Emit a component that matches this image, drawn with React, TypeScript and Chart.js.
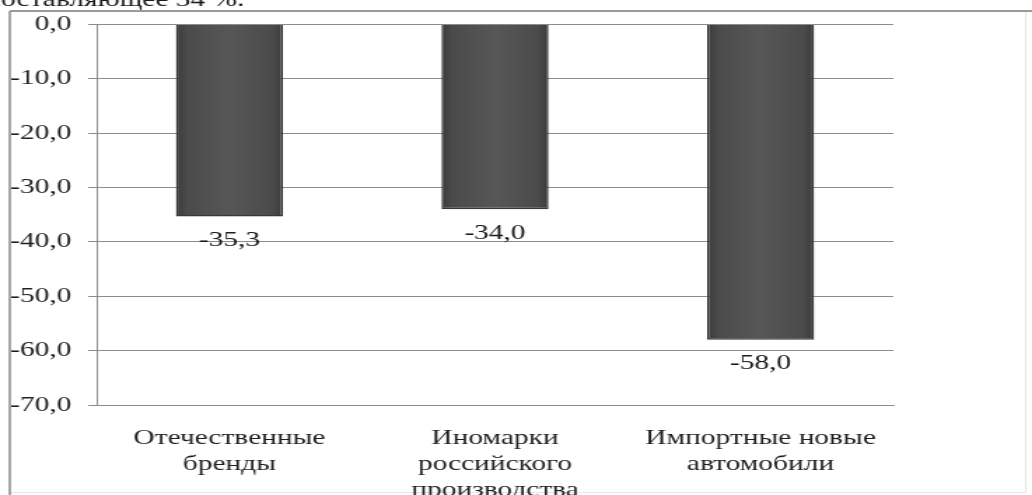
import React, { useEffect, useRef } from "react";
import { Chart, registerables } from "chart.js";

Chart.register(...registerables);

// Chart data: year-on-year change of car sales, %
const categories: string[][] = [
  ["Отечественные", "бренды"],
  ["Иномарки", "российского", "производства"],
  ["Импортные новые", "автомобили"],
];
const changes: number[] = [-35.3, -34.0, -58.0];
const yMin = -70;
const yMax = 0;
const yStep = 10;
const captionText = "составляющее 34 %.";

// Canvas is drawn narrow and stretched horizontally to the full page width
const CANVAS_W = 737;
const CANVAS_H = 495;
const STRETCH = 1032 / CANVAS_W;
const FONT_FAMILY = "'Liberation Serif', 'Times New Roman', serif";
const fmt = (v: number) => v.toFixed(1).replace(".", ",");

const framePlugin = {
  id: "frameAndCaption",
  beforeDraw(chart: Chart) {
    const { ctx } = chart;
    ctx.save();
    ctx.fillStyle = "#ffffff";
    ctx.fillRect(0, 0, chart.width, chart.height);
    // text line of the page above the chart
    ctx.fillStyle = "#1a1a1a";
    ctx.font = `21px ${FONT_FAMILY}`;
    ctx.textBaseline = "alphabetic";
    ctx.textAlign = "left";
    ctx.fillText(captionText, -8.5, 6);
    // chart frame
    ctx.lineWidth = 1;
    ctx.strokeStyle = "#e6e6e6";
    ctx.beginPath();
    ctx.moveTo(732.5, 11);
    ctx.lineTo(732.5, 492.5);
    ctx.lineTo(7, 492.5);
    ctx.stroke();
    ctx.strokeStyle = "#9a9a9a";
    ctx.lineWidth = 2;
    ctx.beginPath();
    ctx.moveTo(7, 11);
    ctx.lineTo(chart.width, 11);
    ctx.stroke();
    ctx.strokeStyle = "#8a8a8a";
    ctx.lineWidth = 1.5;
    ctx.beginPath();
    ctx.moveTo(7, 11);
    ctx.lineTo(7, chart.height);
    ctx.stroke();
    ctx.restore();
  },
};

const valueLabelPlugin = {
  id: "valueLabels",
  afterDatasetsDraw(chart: Chart) {
    const { ctx } = chart;
    const meta = chart.getDatasetMeta(0);
    ctx.save();
    ctx.fillStyle = "#1a1a1a";
    ctx.font = `21px ${FONT_FAMILY}`;
    ctx.textAlign = "center";
    ctx.textBaseline = "middle";
    meta.data.forEach((bar: any, i: number) => {
      ctx.fillText(fmt(changes[i]), bar.x, bar.y + 24);
    });
    ctx.restore();
  },
};

function barFill(c: any) {
  const chart = c.chart;
  const xScale = chart.scales?.x;
  if (!chart.chartArea || !xScale) return "#505050";
  const center = xScale.getPixelForValue(c.dataIndex);
  const half = ((chart.chartArea.right - chart.chartArea.left) / categories.length) * 0.403 / 2;
  const g = chart.ctx.createLinearGradient(center - half, 0, center + half, 0);
  g.addColorStop(0, "#3a3a3a");
  g.addColorStop(0.1, "#4b4b4b");
  g.addColorStop(0.5, "#575757");
  g.addColorStop(0.9, "#4b4b4b");
  g.addColorStop(1, "#3a3a3a");
  return g;
}

export default function App() {
  const canvasRef = useRef<HTMLCanvasElement | null>(null);

  useEffect(() => {
    if (!canvasRef.current) return;
    const chart = new Chart(canvasRef.current, {
      type: "bar",
      data: {
        labels: categories,
        datasets: [
          {
            data: changes,
            backgroundColor: barFill,
            borderColor: "#383838",
            borderWidth: 1.5,
            barPercentage: 0.403,
            categoryPercentage: 1,
          },
        ],
      },
      options: {
        responsive: false,
        animation: false,
        devicePixelRatio: 1,
        layout: { padding: { left: 0, right: 99, top: 24, bottom: 0 } },
        plugins: {
          legend: { display: false },
          tooltip: { enabled: false },
          title: { display: false },
        },
        scales: {
          x: {
            grid: { display: false },
            border: { display: true, color: "#8c8c8c", width: 1 },
            ticks: {
              color: "#1f1f1f",
              padding: 12,
              maxRotation: 0,
              autoSkip: false,
              font: { family: FONT_FAMILY, size: 21, lineHeight: 1.25 },
            },
            afterFit(scale: any) {
              scale.height = 90;
            },
          },
          y: {
            min: yMin,
            max: yMax,
            grid: { color: "#8c8c8c", lineWidth: 1, tickLength: 6 },
            border: { display: true, color: "#8c8c8c", width: 1 },
            ticks: {
              stepSize: yStep,
              color: "#1f1f1f",
              padding: 12,
              font: { family: FONT_FAMILY, size: 21 },
              callback: (v: any) => fmt(Number(v)),
            },
            afterFit(scale: any) {
              scale.width = 69;
            },
          },
        },
      },
      plugins: [framePlugin, valueLabelPlugin],
    });
    return () => chart.destroy();
  }, []);

  return (
    <div
      style={{
        position: "absolute",
        left: 0,
        top: 0,
        width: 1032,
        height: 495,
        overflow: "hidden",
        background: "#ffffff",
      }}
    >
      <div
        style={{
          width: CANVAS_W,
          height: CANVAS_H,
          transform: `scaleX(${STRETCH})`,
          transformOrigin: "0 0",
        }}
      >
        <canvas ref={canvasRef} width={CANVAS_W} height={CANVAS_H} style={{ display: "block" }} />
      </div>
    </div>
  );
}
